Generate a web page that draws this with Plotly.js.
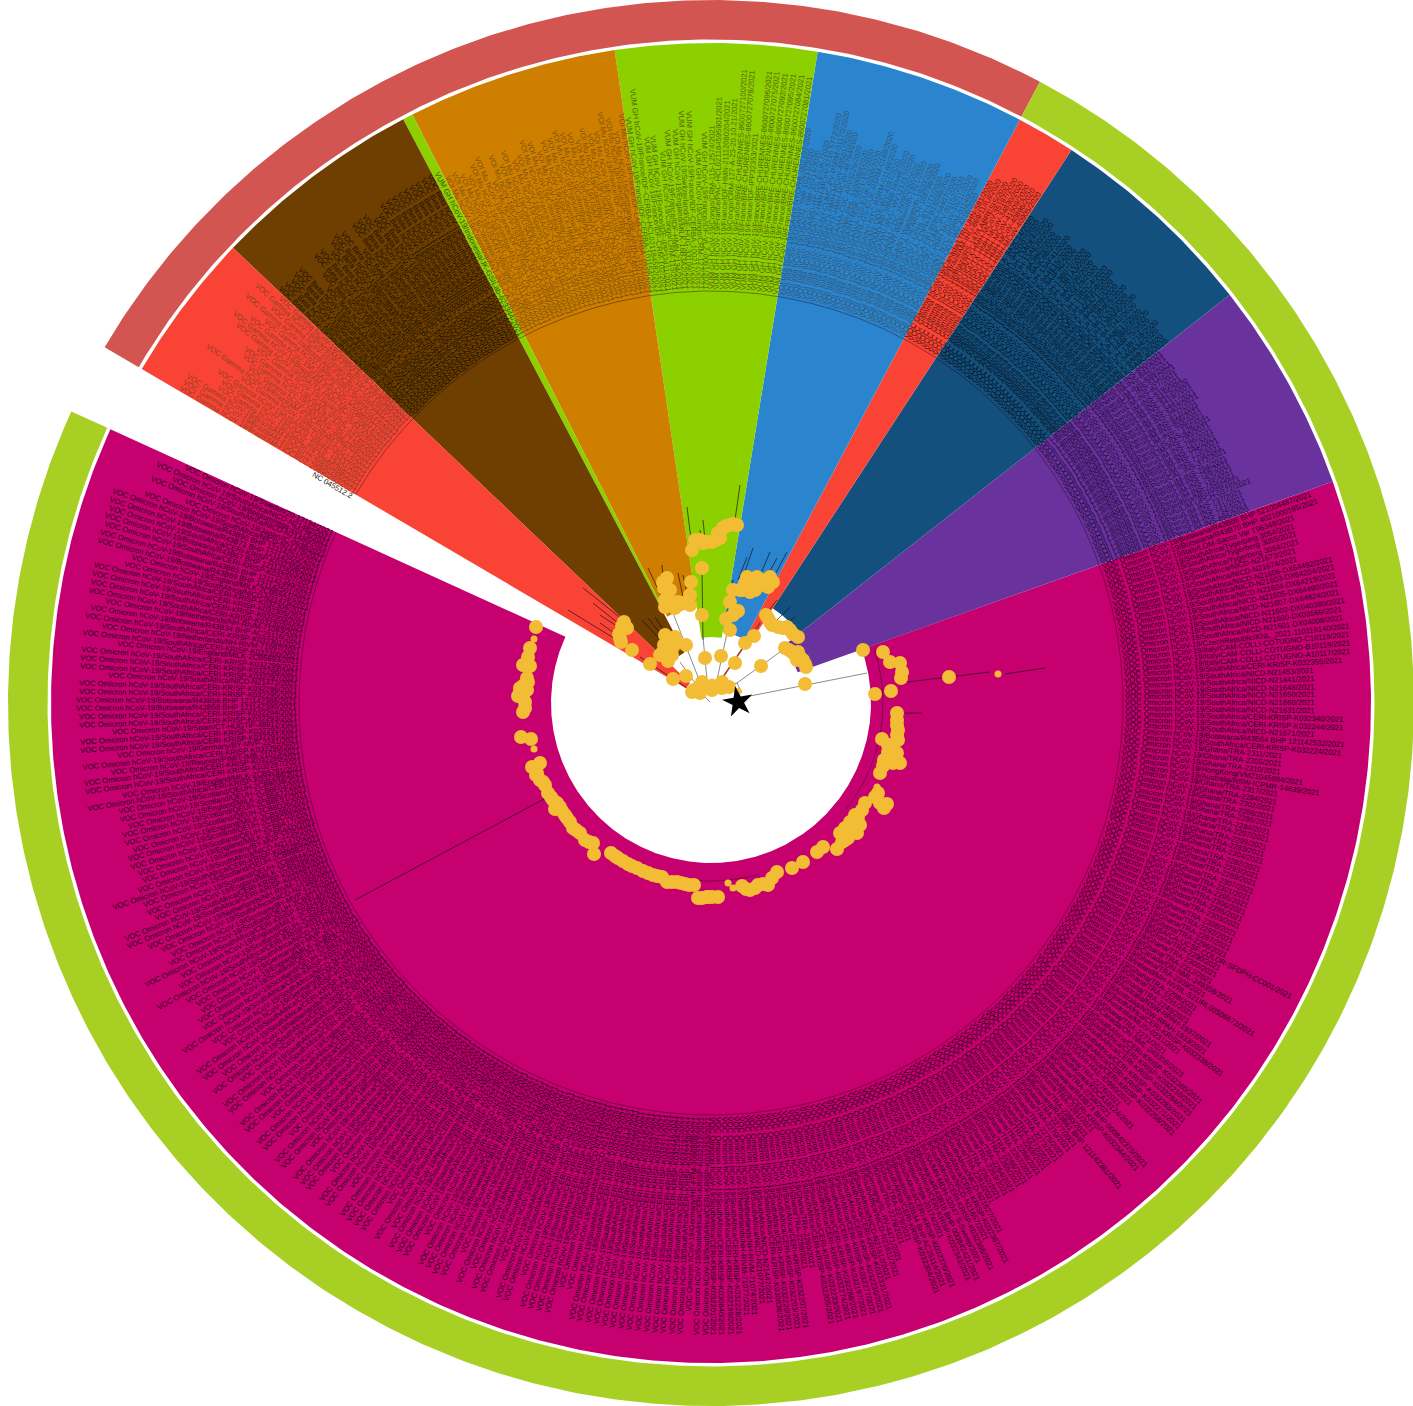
<!DOCTYPE html>
<html><head><meta charset="utf-8">
<script src="https://cdn.plot.ly/plotly-3.0.1.min.js"></script>
<style>html,body{margin:0;padding:0;background:#fff}#c{width:1413px;height:1406px}</style>
</head><body><div id="c"></div>
<script>
// ---------- clades (angles clockwise from north, radii in tree units) ----------
const cladeNames  = ["Omicron","Lambda","Alpha","Gamma2","Iota","VUM GH","Mu","VUM GH2","Beta","Gamma"];
const cladeStart  = [70.4, 51.8, 33.1, 27.9,  9.3, -8.4, -26.9, -27.8, -46.4, -59.6];
const cladeEnd    = [294.5,70.4, 51.8, 33.1, 27.9,  9.3,  -8.4, -26.9, -27.8, -46.4];
const cladeInner  = [160,  92,  113,  72,   72,   66,   97,   112,   57,    29];
const cladeColor  = ["#C6006F","#69329C","#14507E","#F94435","#2A85CE","#8CD000","#CF7F00","#8CD000","#6E3F00","#F94435"];
const cladeText   = ["#1c0318","#1f0a3d","#041322","#5e150c","#345674","#55650a","#7d520b","#3f5208","#1c1000","#8e3e25"];
const ringStart   = [-59.6, 27.9];
const ringEnd     = [27.9, 294.5];
const ringColor   = ["#D25551","#A8D024"];
const outerRadius = 660, ringInner = 663.5, ringOuter = 703, tipRadius = 412;

// ---------- tip labels, clockwise inside each clade ----------
const labelPrefix = ["VOC Omicron hCoV-19/","VOI Lambda hCoV-19/","VOC Alpha hCoV-19/","VOC Gamma hCoV-19/","VOI Iota hCoV-19/","VUM GH hCoV-19/","VOI Mu hCoV-19/","VUM GH hCoV-19/","VOC Beta hCoV-19/","VOC Gamma hCoV-19/"];
const siteCodes = {S:"SouthAfrica/CERI-KRISP-K0",N:"SouthAfrica/NICD-N",G:"Ghana/TRA-",B:"Botswana/R43B",Q:"Scotland/QEUH-",M:"England/MILK-",Y:"Germany/BY-MVP-",R:"Netherlands/NH-RIVM-",T:"Peru/LIM-INS-"};
const omicronLabels = ("B66 BHP 521004487|B70 BHP 4021000195|=Italy/LOM-Sacco Var T96348|=SouthAfrica/Tygerberg 3054|=SouthAfrica/Tygerberg 3055|=SouthAfrica/Tygerberg 3064|N21673|N21674|N21606-DX64492|N21603-DX64204|N21604-DX64219|N21605-DX64490|N21607-DX64624|N21602-DX040380|N21600-DX03569|N21601-DX04008|=CzechRepublic/KNL_2021-110119140|=Italy/CAM-COLLI-COTUGNO-C10119|=Italy/CAM-COLLI-COTUGNO-B10118|=Italy/CAM-COLLI-COTUGNO-A10117|S32355|N21453|N21441|N21648|N21650|N21660|N21631|S32340|S32244|N21671|B64 BHP 121142532|S32224|"+
"G2311|G2305|G2310|=HongKong/VM21045884|=Australia/NSW-ICPMR-14639|G2317|G2294|G2302|G2288|G2286|G2284|G2297|G2299|G2283|G2304|G2282|G2293|G2289|G2307|G2301|G2295|G2306|G2285|G2303|G2308|G2292|G2287|G2296|=USA/CA-UCSF-COLOR-SFDPH-CC001|"+
"G2290|G2300|G2312|=Canada/ON-NML-249358|G2309|=Ireland/MH-NVRL-S21IRL00506672|G2298|G2291|G2249|=Australia/NSW-RPAH-1937|=Australia/NSW-RPAH-1933|S32338|=Australia/MUIV-0231|G2271|=Canada/ON-NML-249359|S32360|S32210|S32284|S32283|S32271|S32258|=USA/HI-HAE-ID990|G2276|=SouthKorea/KDCA18124|G2258|B73 BHP 000842375|S32344|G2281|G2280|B61 BHP 121142361|"+
"G2277|G2270|G2275|G2273|G2272|G2269|G2268|G2267|G2266|G2265|G2264|G2263|G2262|G2261|"+
"N21627|S32367|N21657|S32366|=USA/MN-MDH-32047 S-Sweep|B16 BHP 000842421|S32341|=Belgium/rega-20174|S32370|B34 BHP AC25114|S32304|G2279|G2278|=Germany/SL-RV-4471|N21611|N21612|S32331|S32236|S32277|S32197|S32288|S32274|S32233|S32205|G2260|G2259|S32207|S32203|S32220|S30836|N21447|N21077|R71074|R71077|S32228|S32199|S30840|S32201|S32253|S32212|=Germany/HE-FFM-3086808|S32238|S32192|S32254|S32216|S32217|S32221|S32237|"+
"S32225|S32219|S32209|S32222|S32213|S32243|S32202|N21433|N21435|S32231|S32218|S32223|S32242|N21438|S32206|S32214|Y2191|S32229|S32239|R71082|S32215|N21442|S32226|B38 BHP 000841103|S32227|S32230|N21444|S32245|S32248|S32250|R71085|S32251|Y2204|S32252|S32255|S32256|S32257|N21451|S32259|S32260|N21452|S32261|S32262|S32263|M2CB3E85|S32264|S32265|N21455|S32266|S32267|Q2CB7E7B|S32268|S32269|M2CB4012|S32270|S32272|N21461|S32273|R71090|S32275|S32276|"+
"Y2217|N21463|S32278|Q2CB82A1|Q2CB83C9|M2CB5177|Y2223|N21466|S32279|Q2CB85F0|M2CB5230|S32280|Q2CB8711|Y2229|N21469|R71093|S32281|S32282|M2CB5399|Q2CB8844|Q2CB89B2|S32285|N21470|Y2235|M2CB54AD|Q2CB8A17|Q2CB8C03|M2CB5560|Q2CB8D26|Q2CB8E91|M2CB5672|Q2CB8F04|Q2CB9038|"+
"S32286|M2CB5781|S32287|S32289|=Reunion/PIMIT-IMB-21073|S32290|Y2241|S32291|S32292|=Spain/CT-HUGTiP-48812|S32293|S32294|B58 BHP 121142390|B56 BHP 121142388|S32295|S32296|N21472|S32297|S32298|S32299|=England/MILK-2CB5893|S32300|R71097|S32301|B34 BHP AC25116|R71083|S32302|S32303|S32305|S32306|N21475|=England/MILK-2CB59A1|B69 BHP 121142501|B65 BHP 121142499|S32307|B67 BHP 121142503|S32308|B71 BHP 121142505|B90 BHP 121142510|N21478|=Japan/IC-0938|N21480|=Belgium/rega-20175|N21482|=Sweden/20-13194").split("|");
const lambdaLabels = ("T850/2021|T842/2021|T838/2021|=Peru/CAL-INS-511/2021|T827/2021|T819/2021|T8425/2020|T3419/2021|T3441/2021|T3402/2021|T812/2021|T806/2021|T799/2021|=Peru/CUS-INS-428/2021|T790/2021|T786/2021|T781/2021|T775/2021|T770/2021|=Peru/CAL-INS-372/2021|T764/2021|T758/2021|T752/2021|T745/2021|=Argentina/NEI1096/2021|=Peru/LIM-UPCH-0372/2021|T737/2021|T731/2021|T734/2021|T895/2020").split("|");
const alphaLabels = ("M9A2C14/2020|M9A2D07/2020|Q13ADEF/2020|Q13AE20/2020|M9A3B62/2020|M9A3C88/2020|Q13AF41/2020|M9A4E15/2020|M9A4F90/2020|Q13B072/2020|Q13B1A3/2020|M9A5D36/2020|M9A5E28/2020|Q13B2C4/2020|Q13B3D8/2020|M9A6A71/2020|M9A6B09/2020|Q13B4E5/2020|M9A7C53/2020|Q13B5F6/2020|M9A7D42/2020|M9A8E17/2020|Q13B607/2020|M9A8F75/2020|Q13B718/2020|M9A9A34/2020|M9A9B75/2020|M9A9C40/2020").split("|");
const gamma2Labels = ("=Canada/LTRI-UHN-S81/2020|=Brazil/AM-IHU-869/11/IUI/2020|=Brazil/RS-147/LABRESIS/2020|=USA/TX-HMH-MCoV-35197/2020|=USA/TX-HMH-MCoV-34830/2020|=USA/TX-HMH-MCoV-41509/2020|=USA/TX-HMH-MCoV-40896/2020|=USA/TX-HMH-MCoV-40905/2020").split("|");
const iotaLabels = ("=USA/NY-NYCPHL-002197/2020|=USA/NY-Yale-10211/2020|=USA/CT-Yale-10214/2020|=USA/MD-HP-GS-E/UK-/2020|=USA/TX-HMH-MCoV-5716 5772/2020|=USA/NY-CUMC-PV-R5RM-01170/2020|=USA/TX-HMH-MCoV-49501/2020|=USA/TX-HMH-MCoV-48794/2020|=USA/MA-CDC-AF03229/2020|=USA/WA-PHL-3100060/2020|=USA/NY-MSK-2021-152/2020|=USA/WA-GS-E/UK-0200/2020|=USA/PA-GS-E/UK-R5RM-0169/2020|=USA/NY-NYC-R5RM-01168/2020|=USA/NY-QDX-WV-4397/2020|=USA/MD-HP-38688-NoveE/2020|=USA/WV-WVU-WV121217/2020|=USA/NJ-CDC-25090230/2020|=USA/NY-Wadsworth-1921/2020|=USA/NY-Wadsworth-1920/2020|=USA/CA-SEARCH-109796/2020|=USA/UT-UPHL-BY-UT1/2020|=USA/CA-CDPH-FB18599/2020|=USA/CA-FB18599-54407/2020|=USA/NY-CUMC-PV-01152/2020|=USA/TX-HMH-MCoV-30211/2020|=USA/NY-NYC-R5RM-01140/2020|=USA/NY-QDX-WV-4216/2020").split("|");
const vumLabels = ("=France/IDF-CERBA-101154/2021|=France/IDF-CERBA-HCL021184582/2021|=France/IDF-CRM-102/2021|=France/IDF-IPP33411/2021|=Congo/CRM-115/2021|=France/IDF-HMN-2134/2021|=England/MILK-16B3A2/2021|=Switzerland/GE-HUG-33109/2021|=France/IDF-CERBA-100217/2021|=Congo/CRM-127/2021|=France/IDF-VLZ-0091/2021|=Congo/CRM-115-12574/2021|=France/PAC-HCL021184595901/2021|=France/IDF-HMN-21112080204/2021|=Congo/CRM-127-A-23-20.10.21/2021|=France/BRE-CHURENNES-8600727100/2021|=France/BRE-CHURENNES-8600727078/2021|=France/IDF-IPP32353/2021|=France/BRE-CHURENNES-8600727096/2021|=France/BRE-CHURENNES-8600727075/2021|=France/BRE-CHURENNES-8600727092/2021|=France/BRE-CHURENNES-8600727095/2021|=France/BRE-CHURENNES-8600727084/2021|=France/BRE-CHURENNES-8600727081/2021").split("|");
const muLabels = ("=Colombia/ANT-INS-CA-5821/2021|=Colombia/VAC-INS-CA-6044/2021|=USA/NY-Wadsworth-21066/2021|=USA/FL-CDC-LC0112480/2021|=Colombia/ANT-INS-CA-5714/2021|=France/IDF-CERBA-HCL4218/2021|=USA/MA-MGH-03112/2021|=Colombia/ANT-INS-CA-5690/2021|=USA/NJ-CDC-QDX23911/2021|=Colombia/VAC-INS-CA-5633/2021|=Spain/CT-HUGTiP-40215/2021|=USA/CA-CDC-LC0118120/2021|=France/IDF-CERBA-HCL4117/2021|=Colombia/ANT-INS-CA-5587/2021|=Norway/13381-Ous-2021/2021|=USA/TX-HMH-MCoV-60214/2021|=Colombia/ATL-INS-CA-5511/2021|=France/IDF-CERBA-HCL4066/2021|=Colombia/ANT-INS-CA-5490/2021|=Colombia/ATL-INS-CA-5462/2021|=USA/FL-CDC-QDX21180/2021|=Colombia/VAC-INS-CA-5433/2021|=USA/NY-NYCPHL-000214/2021|=Ecuador/USFQ-COG-1181/2021|=France/IDF-CERBA-ICSEHC-47/2021|=France/IDF-CERBA-HCL4011/2021|=Germany/BE-MHH-31107/2021|=France/IDF-LAB-CERBA-1021/2021").split("|");
const vum2Labels = ["=Indonesia/JK-GSILab-623344/2021"];
const betaLabels = ("=SouthAfrica/KRISP-K005299/2020|=SouthAfrica/KRISP-K005325/2020|=SouthAfrica/Tygerberg-1102/2020|=SouthAfrica/KRISP-K005321/2020|=SouthAfrica/KRISP-K005300/2020|=USA/MD-HP01542/2020|=England/MILK-9E05B3/2020|=SouthAfrica/KRISP-K004964/2020|=SouthAfrica/KRISP-K005468/2020|=SouthAfrica/NICD-N22418/2020|=SouthAfrica/KRISP-K005412/2020|=Botswana/R42B90 BHP 0101/2020|=SouthAfrica/KRISP-K004983/2020|=USA/VA-DCLS-2187/2020|=SouthAfrica/KRISP-K005365/2020|=SouthAfrica/KRISP-K005371/2020|=SouthAfrica/KRISP-K005388/2020|=SouthAfrica/NICD-N22410/2020|=SouthAfrica/NICD-N22405/2020|=SouthAfrica/KRISP-K004921/2020|=SouthAfrica/KRISP-K004930/2020|=SouthAfrica/KRISP-K004937/2020|=SouthAfrica/KRISP-K004945/2020|=SouthAfrica/KRISP-K004958/2020|=SouthAfrica/KRISP-K005118/2020|=SouthAfrica/KRISP-K005122/2020|=SouthAfrica/KRISP-K005130/2020|=SouthAfrica/KRISP-K005134/2020").split("|");
const gammaLabels = ("=Brazil/AM-FIOCRUZ-20890260/2021|=Brazil/AM-FIOCRUZ-20890265/2021|=Brazil/AM-FIOCRUZ-20890288/2021|=USA/IL-RIPHL-19401/2021|=USA/IL-RIPHL-19437/2021|=USA/WA-UW-21030422/2021|=Brazil/AM-L70-71/2021|=Brazil/AM-FIOCRUZ-20890304/2021|=USA/IL-SIU-1288/2021|=USA/AZ-ASU-S2145/2021|=USA/IL-RIPHL-19502/2021|=Japan/IC-0564-VN/2021|=USA/TX-HMH-MCoV-30814/2021|=Brazil/AM-FIOCRUZ-20890311/2021|=USA/CA-CDC-QDX20912/2021|=Brazil/RJ-Shanvi-0721/2021|=Brazil/AM-FIOCRUZ-20890331/2021|=Spain/PE-HCUV-18830/2021|=Brazil/AM-FIOCRUZ-20890340/2021|=Spain/PE-HCUV-18841/2021").split("|");
const rootLabel = "NC 045512.2";

// ---------- tree nodes (tree-plot coordinates) ----------
const nodeX = [536,530,528,527,530,523,527,528,520,518,523,525,525,523,521,531,540,532,537,540,545,548,553,555,560,565,570,573,580,585,593,594,611,618,628,637,643,653,662,667,677,685,694,702,707,712,718,742,750,758,768,772,777,792,803,817,823,837,845,840,857,850,862,858,884,880,875,880,883,900,893,888,897,882,898,898,897,897,891,875,901,902,900,890,883,863,949,
 624,627,619,621,632,650,673,686,665,675,662,672,667,673,686,667,663,668,665,678,675,690,690,691,702,702,692,695,703,712,720,723,730,737,730,726,733,738,730,733,742,750,747,757,760,770,773,768,705,721,735,745,754,761,805,766,770,778,787,793,785,792,798,797,806,803,692,700,708,702,722,722,729,
 536,543,551,557,562,567,576,589,615,623,632,648,657,672,681,689,520,527,524,897,897,892,884,888,892,895,763,755,746,708,698,842,848,854,845,860,855,865,878,887,670,665,672,683,664,668,670,664,660,676,668,740,755,765,745,752,762,772,783,790,798,768,789,795,800,805,700,707,716,726,733,718,622,620,694,698,712,717];
const nodeY = [627,648,657,666,666,665,678,682,688,696,695,702,708,712,737,739,763,767,773,780,785,793,800,809,807,815,822,828,833,840,843,854,853,858,864,868,871,875,877,882,882,884,885,898,897,897,897,886,890,885,885,878,872,868,862,852,847,849,840,833,833,822,810,817,808,803,797,773,766,763,763,752,753,739,740,730,720,713,691,694,678,672,663,662,652,650,677,
 622,628,634,642,650,664,679,676,635,637,653,655,643,647,645,578,582,593,607,602,608,605,595,582,615,568,550,540,543,542,538,528,525,525,630,619,615,611,602,590,590,592,577,577,585,577,582,587,658,656,663,643,636,666,684,615,622,627,627,634,648,652,652,660,667,660,692,693,687,682,682,688,687,
 775,782,797,803,811,818,830,842,856,861,866,873,876,882,883,885,692,690,685,725,735,745,760,745,745,758,884,888,889,897,898,842,838,828,828,825,815,803,793,804,590,600,605,603,588,650,640,645,655,643,661,590,590,583,583,585,580,625,628,630,637,618,650,655,657,664,540,542,540,526,524,533,626,638,690,688,690,686];
const smallNodeX = [534,534,712,728,733,877,998,738,702];
const smallNodeY = [639,749,682,883,888,787,674,691,690];
const rootNode = {x:[738],y:[702]};

// ---------- branches: start and end of each ----------
const stemFrom = [[745,697],[737,683],[742,693],[717,680],[707,680],[700,682],[695,683],[700,690],[710,702],[690,693]];
const stemTo   = [[867,673],[780,652],[737,683],[727,633],[703,637],[673,613],[680,662],[738,683],[705,697],[700,681]];
const tipFrom  = [[740,485],[687,507],[703,520],[700,530],[753,548],[770,552],[787,552],[777,558],[747,557],[733,580],[662,565],[648,568],[678,573],[683,575],[583,588],[593,603],[600,615],[568,610],[600,623],[642,620],[648,618],[655,617],[777,600],[790,607],[795,617],[355,900],[907,682],[1005,674],[905,713],[702,568],[687,688]];
const tipTo    = [[735,520],[692,547],[705,540],[702,543],[743,577],[758,580],[772,580],[765,580],[738,580],[727,613],[665,600],[663,600],[683,597],[687,593],[627,623],[623,627],[623,630],[617,640],[620,637],[667,647],[668,643],[670,640],[767,613],[777,620],[787,623],[546,798],[990,672],[1045,668],[922,713],[703,640],[640,657]];
const redStemFrom = [723,677], redStemTo = [760,623];
const treeArcRadius = [172,178,tipRadius];
const treeArcStart  = [72,164,-59.6];
const treeArcEnd    = [128,188,294.5];

// ---------- draw ----------
const CX = 711, CY = 703;
function pt(th,r){const a=th*Math.PI/180;return [CX+r*Math.sin(a),CY-r*Math.cos(a)];}
function band(t0,t1,r0,r1){
  const x=[],y=[];const n=Math.max(2,Math.ceil(Math.abs(t1-t0)/0.4));
  for(let i=0;i<=n;i++){const p=pt(t0+(t1-t0)*i/n,r1);x.push(p[0]);y.push(p[1]);}
  for(let i=n;i>=0;i--){const p=pt(t0+(t1-t0)*i/n,r0);x.push(p[0]);y.push(p[1]);}
  x.push(x[0]);y.push(y[0]);return {x,y};
}
function arcLine(t0,t1,r){const x=[],y=[];const n=Math.ceil(Math.abs(t1-t0)/0.4);
  for(let i=0;i<=n;i++){const p=pt(t0+(t1-t0)*i/n,r);x.push(p[0]);y.push(p[1]);}return {x,y};}
function segs(a,b){const x=[],y=[];a.forEach((p,i)=>{x.push(p[0],b[i][0],null);y.push(p[1],b[i][1],null);});return {x,y};}

const traces=[];
cladeNames.forEach((n,i)=>{
  const b=band(cladeStart[i],cladeEnd[i],cladeInner[i],outerRadius);
  traces.push({type:'scatter',mode:'lines',x:b.x,y:b.y,fill:'toself',fillcolor:cladeColor[i],line:{width:0},name:n,hoverinfo:'skip'});
});
ringColor.forEach((c,i)=>{
  const b=band(ringStart[i],ringEnd[i],ringInner,ringOuter);
  traces.push({type:'scatter',mode:'lines',x:b.x,y:b.y,fill:'toself',fillcolor:c,line:{width:0},hoverinfo:'skip'});
});
treeArcRadius.forEach((r,i)=>{
  const a=arcLine(treeArcStart[i],treeArcEnd[i],r);
  traces.push({type:'scatter',mode:'lines',x:a.x,y:a.y,line:{width:0.7,color:'rgba(30,0,30,0.6)'},hoverinfo:'skip'});
});
const st=segs(stemFrom,stemTo);
traces.push({type:'scatter',mode:'lines',x:st.x,y:st.y,line:{width:1,color:'#8c8c8c'},hoverinfo:'skip'});
const tp=segs(tipFrom,tipTo);
traces.push({type:'scatter',mode:'lines',x:tp.x,y:tp.y,line:{width:0.8,color:'rgba(20,10,20,0.8)'},hoverinfo:'skip'});
const rs=segs([redStemFrom],[redStemTo]);
traces.push({type:'scatter',mode:'lines',x:rs.x,y:rs.y,line:{width:1.4,color:'#A33024'},hoverinfo:'skip'});
traces.push({type:'scatter',mode:'markers',x:nodeX,y:nodeY,marker:{size:14,color:'#F2BD35',line:{width:0}},hoverinfo:'skip'});
traces.push({type:'scatter',mode:'markers',x:smallNodeX,y:smallNodeY,marker:{size:7,color:'#F2BD35',line:{width:0}},hoverinfo:'skip'});
traces.push({type:'scatter',mode:'markers',x:rootNode.x,y:rootNode.y,marker:{symbol:'star',size:23,color:'#000',angle:-10,line:{width:0}},hoverinfo:'skip'});

// label size chosen so the longest regular tip name spans the tip band as in the picture
const FONT='Liberation Sans';
const ctx=document.createElement('canvas').getContext('2d');
ctx.font='10px "Liberation Sans"';
const refText='VOC Omicron hCoV-19/SouthAfrica/NICD-N21606-DX64492/2021';
const FS=10*224/ctx.measureText(refText).width;
ctx.font=FS+'px "Liberation Sans"';
function expand(s){
  if(s[0]==='=') return s.slice(1);
  const c=siteCodes[s[0]];
  return c? c+s.slice(1): s;
}
const annotations=[];
function place(text,th,color){
  const w=ctx.measureText(text).width;
  const p=pt(th,tipRadius+2+w/2);
  let t=((th%360)+360)%360;
  let ang = t<180 ? t-90 : t+90;
  if(ang>180) ang-=360;
  annotations.push({x:p[0],y:p[1],xref:'x',yref:'y',text:text,showarrow:false,xanchor:'center',yanchor:'middle',textangle:ang,borderpad:0,borderwidth:0,font:{family:FONT,size:FS,color:color}});
}
const allLabels=[omicronLabels,lambdaLabels,alphaLabels,gamma2Labels,iotaLabels,vumLabels,muLabels,vum2Labels,betaLabels,gammaLabels];
allLabels.forEach((list,i)=>{
  const span=cladeEnd[i]-cladeStart[i];
  list.forEach((s,j)=>{
    let txt=expand(s);
    if(!/\/20\d\d$/.test(txt)) txt+='/2021';
    place(labelPrefix[i]+txt,cladeStart[i]+span*(j+0.5)/list.length,cladeText[i]);
  });
});
place(rootLabel,-60.1,'#222');

Plotly.newPlot('c',traces,{
  width:1413,height:1406,margin:{l:0,r:0,t:0,b:0},showlegend:false,
  paper_bgcolor:'#fff',plot_bgcolor:'#fff',
  xaxis:{range:[0,1413],visible:false,fixedrange:true},
  yaxis:{range:[1406,0],visible:false,fixedrange:true},
  annotations:annotations
},{staticPlot:true,displayModeBar:false});
</script></body></html>
